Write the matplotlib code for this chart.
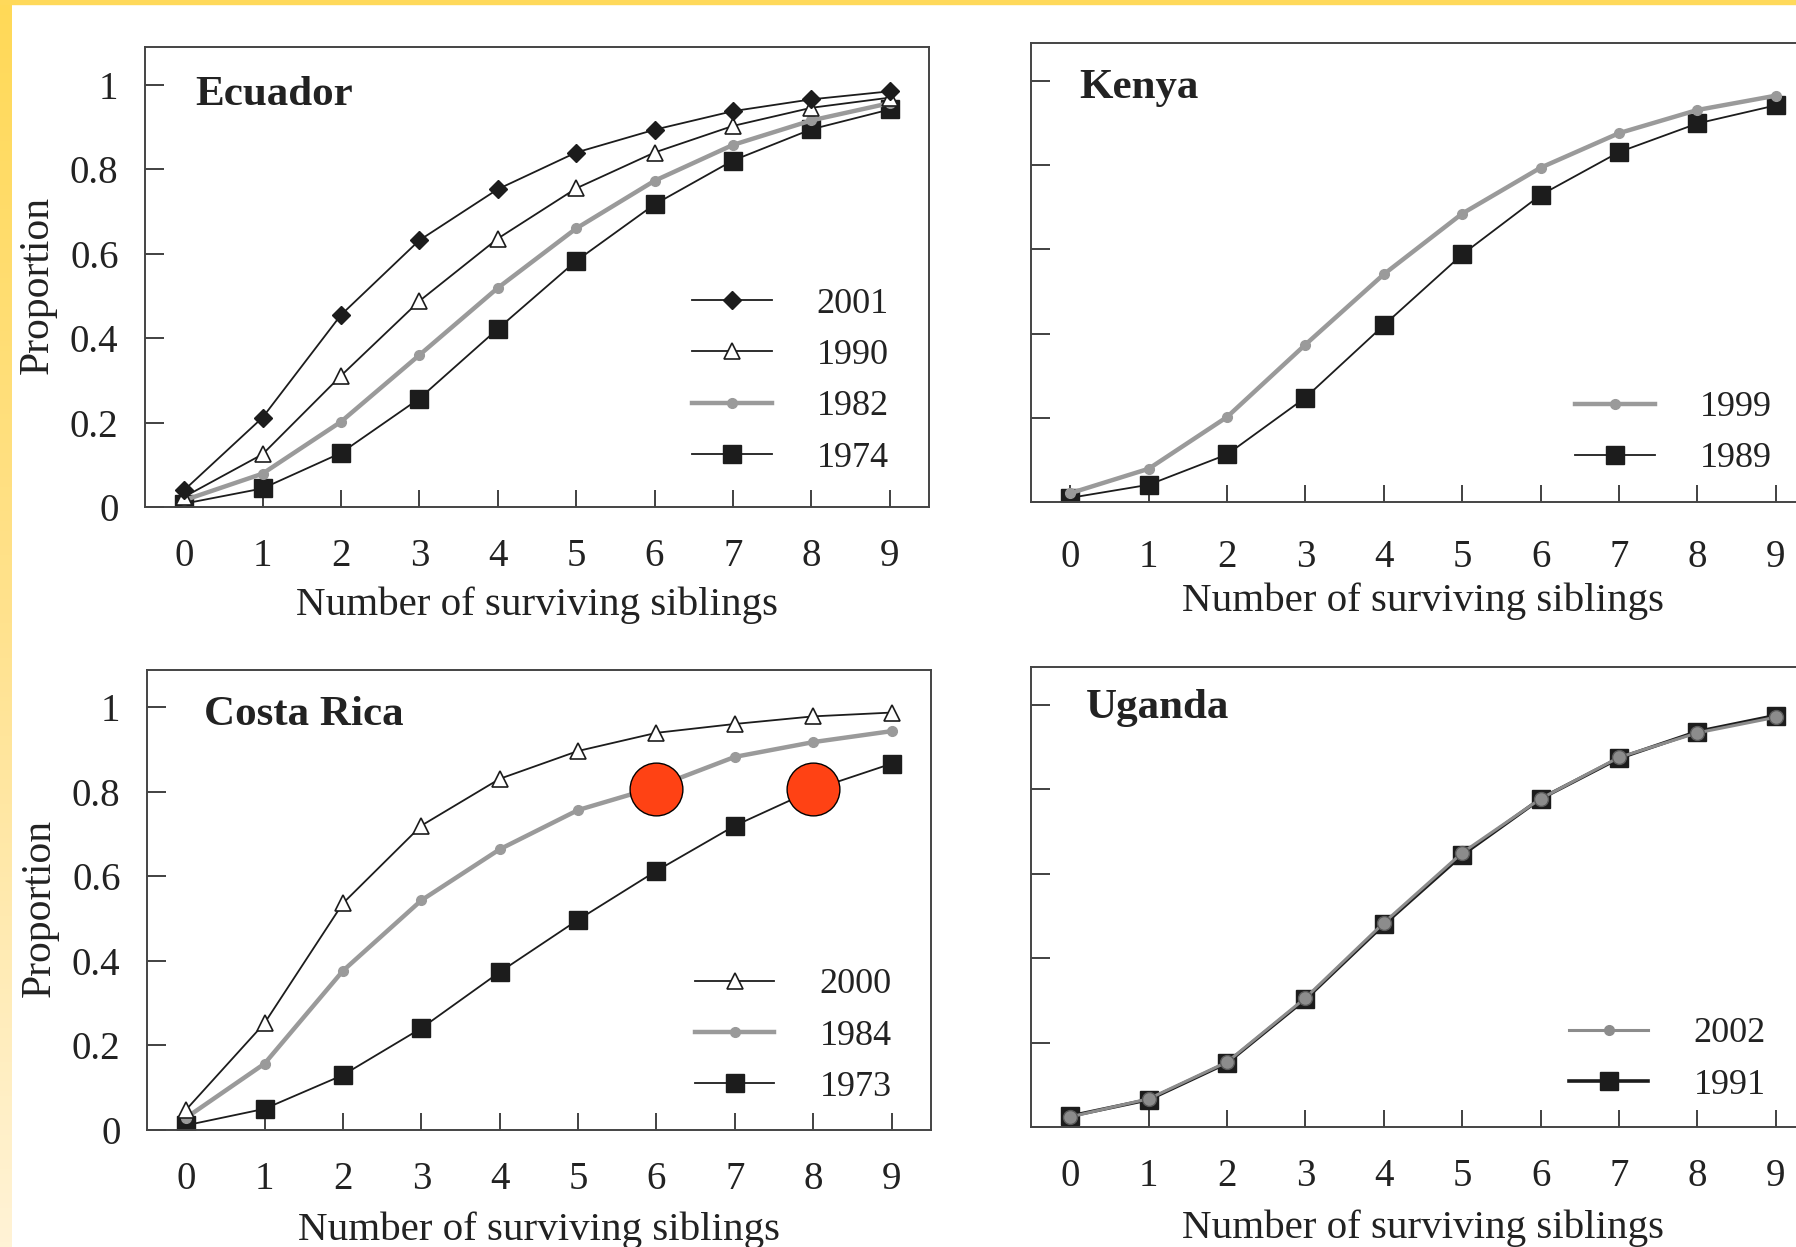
import numpy as np
import matplotlib.pyplot as plt
from matplotlib.colors import LinearSegmentedColormap

plt.rcParams['font.family'] = ['Liberation Serif', 'DejaVu Serif']

# proportion of people with at most n surviving siblings
siblings = [0, 1, 2, 3, 4, 5, 6, 7, 8, 9]
ytick_vals = [0, 0.2, 0.4, 0.6, 0.8, 1]
ytick_labels = ["0", "0.2", "0.4", "0.6", "0.8", "1"]

ecuador_2001 = [0.040, 0.212, 0.455, 0.632, 0.753, 0.840, 0.894, 0.938, 0.966, 0.985]
ecuador_1990 = [0.024, 0.125, 0.311, 0.488, 0.636, 0.755, 0.840, 0.903, 0.946, 0.970]
ecuador_1982 = [0.016, 0.079, 0.202, 0.360, 0.519, 0.660, 0.773, 0.858, 0.916, 0.957]
ecuador_1974 = [0.008, 0.044, 0.128, 0.257, 0.422, 0.583, 0.717, 0.821, 0.895, 0.942]

kenya_1999 = [0.021, 0.079, 0.202, 0.374, 0.541, 0.685, 0.794, 0.876, 0.931, 0.965]
kenya_1989 = [0.010, 0.041, 0.113, 0.248, 0.420, 0.588, 0.729, 0.831, 0.899, 0.942]

costa_2000 = [0.047, 0.252, 0.536, 0.720, 0.831, 0.897, 0.940, 0.961, 0.979, 0.988]
costa_1984 = [0.028, 0.156, 0.376, 0.543, 0.664, 0.757, 0.812, 0.883, 0.918, 0.944]
costa_1973 = [0.010, 0.049, 0.129, 0.240, 0.373, 0.497, 0.613, 0.720, 0.805, 0.867]

uganda_2002 = [0.024, 0.067, 0.154, 0.306, 0.484, 0.650, 0.778, 0.876, 0.934, 0.971]
uganda_1991 = [0.026, 0.065, 0.152, 0.303, 0.480, 0.645, 0.778, 0.874, 0.937, 0.975]

# red marks drawn over the Costa Rica panel
highlight_x = [6, 8]
highlight_y = [0.807, 0.807]

BLACK = '#1c1c1c'
GRAY = '#9a9a9a'
TXT = '#222222'


def style_axes(ax, left_labels, xpad=22.5, xlabelpad=8, ylab_y=0.483):
    ax.set_xlim(-0.5, 9.5)
    ax.set_ylim(0, 1.09)
    ax.set_xticks(siblings)
    ax.set_yticks(ytick_vals)
    ax.set_yticklabels(ytick_labels if left_labels else [])
    ax.tick_params(direction='in', width=1.3, color='#333333',
                   labelsize=28, labelcolor=TXT)
    ax.tick_params(axis='x', length=12.5, pad=xpad)
    ax.tick_params(axis='y', length=14, pad=19)
    for s in ax.spines.values():
        s.set_linewidth(1.4)
        s.set_color('#444444')
    ax.set_xlabel('Number of surviving siblings', fontsize=29.5, color=TXT,
                  labelpad=xlabelpad)
    if left_labels:
        ax.set_ylabel('Proportion', fontsize=30, color=TXT)
        ax.yaxis.set_label_coords(-0.113, ylab_y)


def add_legend(ax, handles, labels, x, y):
    leg = ax.legend(handles, labels, loc='center left', bbox_to_anchor=(x, y),
                    frameon=False, fontsize=26, numpoints=1, handlelength=2.2,
                    handletextpad=1.25, labelspacing=0.5, borderpad=0,
                    borderaxespad=0)
    for t in leg.get_texts():
        t.set_color(TXT)
    return leg


def add_title(ax, name, x, y):
    ax.text(x, y, name, transform=ax.transAxes, fontsize=31, fontweight='bold',
            color=TXT, va='baseline', ha='left')


fig = plt.figure(figsize=(17.96, 12.47), dpi=100)

# yellow frame at the left and top
strip = fig.add_axes([0, 0, 12 / 1796, 1])
grad = np.linspace(0, 1, 256).reshape(-1, 1)
cmap = LinearSegmentedColormap.from_list('frame', ['#ffd957', '#ffe28e', '#fff3d6'])
strip.imshow(grad, aspect='auto', cmap=cmap, extent=[0, 1, 0, 1], origin='upper')
strip.axis('off')
fig.patches.append(plt.Rectangle((0, 1 - 4 / 1247), 1, 4 / 1247, transform=fig.transFigure,
                                 color='#ffd95a', zorder=0))

ax1 = fig.add_axes([0.0807, 0.5934, 0.4365, 0.3689])
ax2 = fig.add_axes([0.5741, 0.5974, 0.4365, 0.3681])
ax3 = fig.add_axes([0.0818, 0.0942, 0.4365, 0.3689])
ax4 = fig.add_axes([0.5741, 0.0962, 0.4365, 0.3689])

# Ecuador
l74, = ax1.plot(siblings, ecuador_1974, color=BLACK, lw=1.3, marker='s', ms=13)
l82, = ax1.plot(siblings, ecuador_1982, color=GRAY, lw=3.2, marker='o', ms=7)
l90, = ax1.plot(siblings, ecuador_1990, color=BLACK, lw=1.3, marker='^', ms=11,
                mfc='white', mec=BLACK, mew=1.2)
l01, = ax1.plot(siblings, ecuador_2001, color=BLACK, lw=1.3, marker='D', ms=9.5)
style_axes(ax1, True)
add_legend(ax1, [l01, l90, l82, l74], ['2001', '1990', '1982', '1974'], 0.698, 0.274)
add_title(ax1, 'Ecuador', 0.064, 0.874)

# Kenya
k89, = ax2.plot(siblings, kenya_1989, color=BLACK, lw=1.3, marker='s', ms=13)
k99, = ax2.plot(siblings, kenya_1999, color=GRAY, lw=3.2, marker='o', ms=7)
style_axes(ax2, False, xpad=26.5, xlabelpad=5)
add_legend(ax2, [k99, k89], ['1999', '1989'], 0.694, 0.150)
add_title(ax2, 'Kenya', 0.061, 0.880)

# Costa Rica
c73, = ax3.plot(siblings, costa_1973, color=BLACK, lw=1.3, marker='s', ms=13)
c84, = ax3.plot(siblings, costa_1984, color=GRAY, lw=3.2, marker='o', ms=7)
c00, = ax3.plot(siblings, costa_2000, color=BLACK, lw=1.3, marker='^', ms=11,
                mfc='white', mec=BLACK, mew=1.2)
ax3.plot(highlight_x, highlight_y, ls='none', marker='o', ms=38,
         mfc='#ff4214', mec='black', mew=1.0, zorder=5)
style_axes(ax3, True, xlabelpad=10, ylab_y=0.4815)
add_legend(ax3, [c00, c84, c73], ['2000', '1984', '1973'], 0.699, 0.203)
add_title(ax3, 'Costa Rica', 0.0727, 0.879)

# Uganda
u91, = ax4.plot(siblings, uganda_1991, color=BLACK, lw=2.6, marker='s', ms=13)
u02, = ax4.plot(siblings, uganda_2002, color='#8c8c8c', lw=2.2, marker='o', ms=10,
                mec='#5a5a5a', mew=1.0)
style_axes(ax4, False, xlabelpad=10)
leg = add_legend(ax4, [u02, u91], ['2002', '1991'], 0.686, 0.147)
leg.legend_handles[0].set_markersize(7)
leg.legend_handles[0].set_markeredgecolor('#8c8c8c')
add_title(ax4, 'Uganda', 0.070, 0.890)

fig.savefig('out.png', dpi=100)
